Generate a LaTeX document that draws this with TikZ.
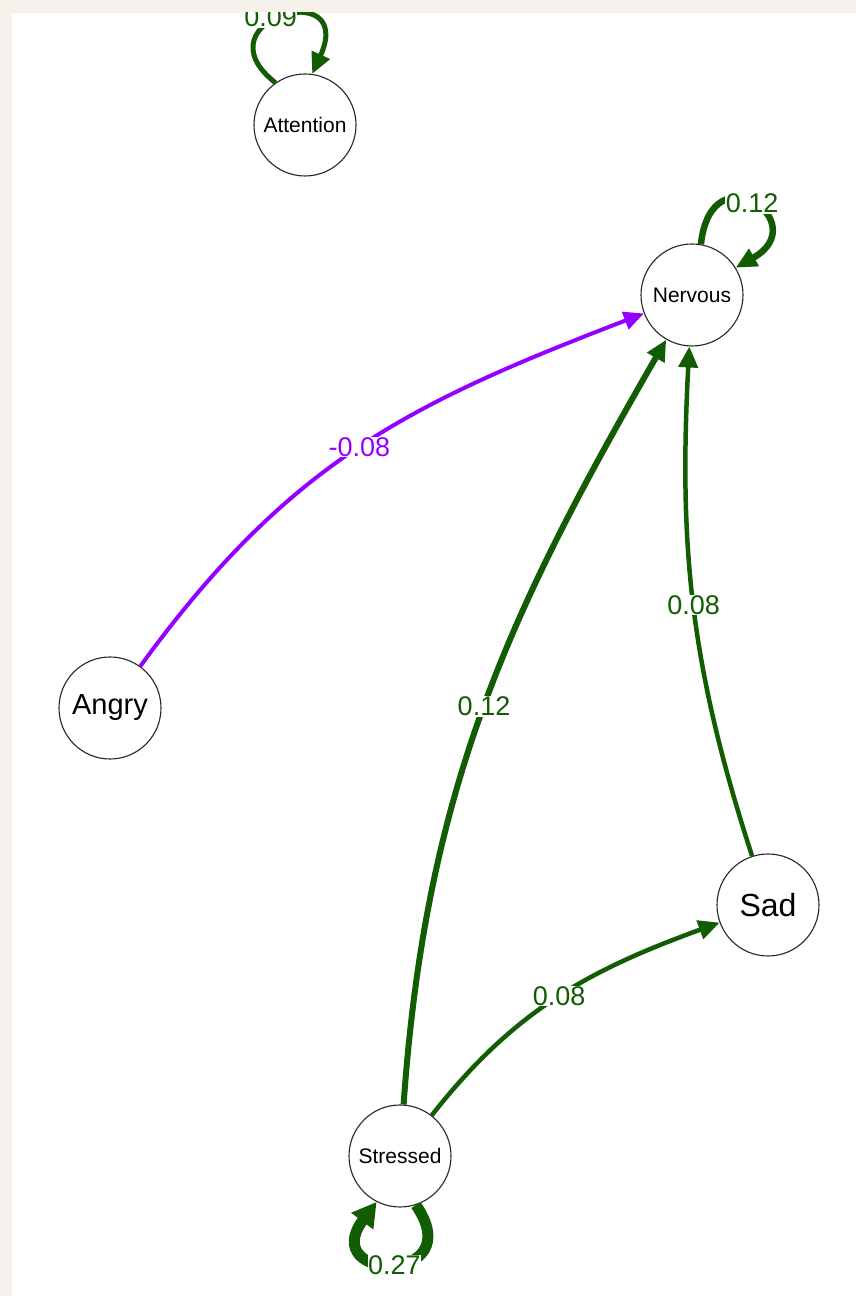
\documentclass[tikz,border=0pt]{standalone}
\usepackage{fontspec}
\setmainfont{Liberation Sans}
\usetikzlibrary{arrows.meta}
\definecolor{bg}{RGB}{246,241,234}
\definecolor{posc}{RGB}{18,92,4}
\definecolor{negc}{RGB}{148,0,255}
\begin{document}
\begin{tikzpicture}[x=1pt,y=1pt,
  state/.style={circle,draw=black!85,line width=1.1pt,fill=white,minimum size=102pt,inner sep=0pt},
  posedge/.style={draw=posc,-{Triangle[length=21pt,width=19pt]}},
  negedge/.style={draw=negc,-{Triangle[length=20pt,width=18pt]}},
  lbl/.style={fill=white,inner sep=0.5pt,text=posc,font=\fontsize{27}{27}\selectfont}
]
\useasboundingbox (0,0) rectangle (856,1296);
\fill[bg] (0,0) rectangle (856,1296);
\fill[white] (12,0) rectangle (856,1283);
\begin{scope}
\clip (12,0) rectangle (856,1283);
% nodes
\node[state,font=\fontsize{21}{21}\selectfont] (attention) at (305,1171) {Attention};
\node[state,font=\fontsize{21}{21}\selectfont] (nervous) at (692,1001) {Nervous};
\node[state,font=\fontsize{29}{29}\selectfont] (angry) at (110,588) {Angry};
\node[state,font=\fontsize{32}{32}\selectfont] (sad) at (768,391) {Sad};
\node[state,font=\fontsize{21}{21}\selectfont] (stressed) at (400,140) {Stressed};
% edges
\draw[negedge,line width=4pt] (angry) to[out=54,in=201,looseness=1.05] node[lbl,text=negc,pos=0.5] {-0.08} (nervous);
\draw[posedge,line width=6pt] (stressed) to[out=86,in=240] node[lbl,pos=0.5] {0.12} (nervous);
\draw[posedge,line width=4.5pt] (sad) to[out=108,in=267] node[lbl,pos=0.5] {0.08} (nervous);
\draw[posedge,line width=4.5pt] (stressed) to[out=52,in=200] node[lbl,pos=0.5] {0.08} (sad);
% loops
\draw[posedge,line width=6.5pt] (nervous.80) .. controls +(10,95) and +(80,45) .. (nervous.32) node[lbl,pos=0.5] {0.12};
\draw[posedge,line width=5pt] (attention.125) .. controls +(-80,63) and +(45,99) .. (attention.82) node[lbl,pos=0.5,xshift=-10pt] {0.09};
\draw[draw=posc,line width=11pt,-{Triangle[length=24pt,width=26pt]}] (stressed.-72) .. controls +(55,-80) and +(-60,-80) .. (stressed.-117) node[lbl,pos=0.5,yshift=-2pt] {0.27};
\end{scope}
\end{tikzpicture}
\end{document}
